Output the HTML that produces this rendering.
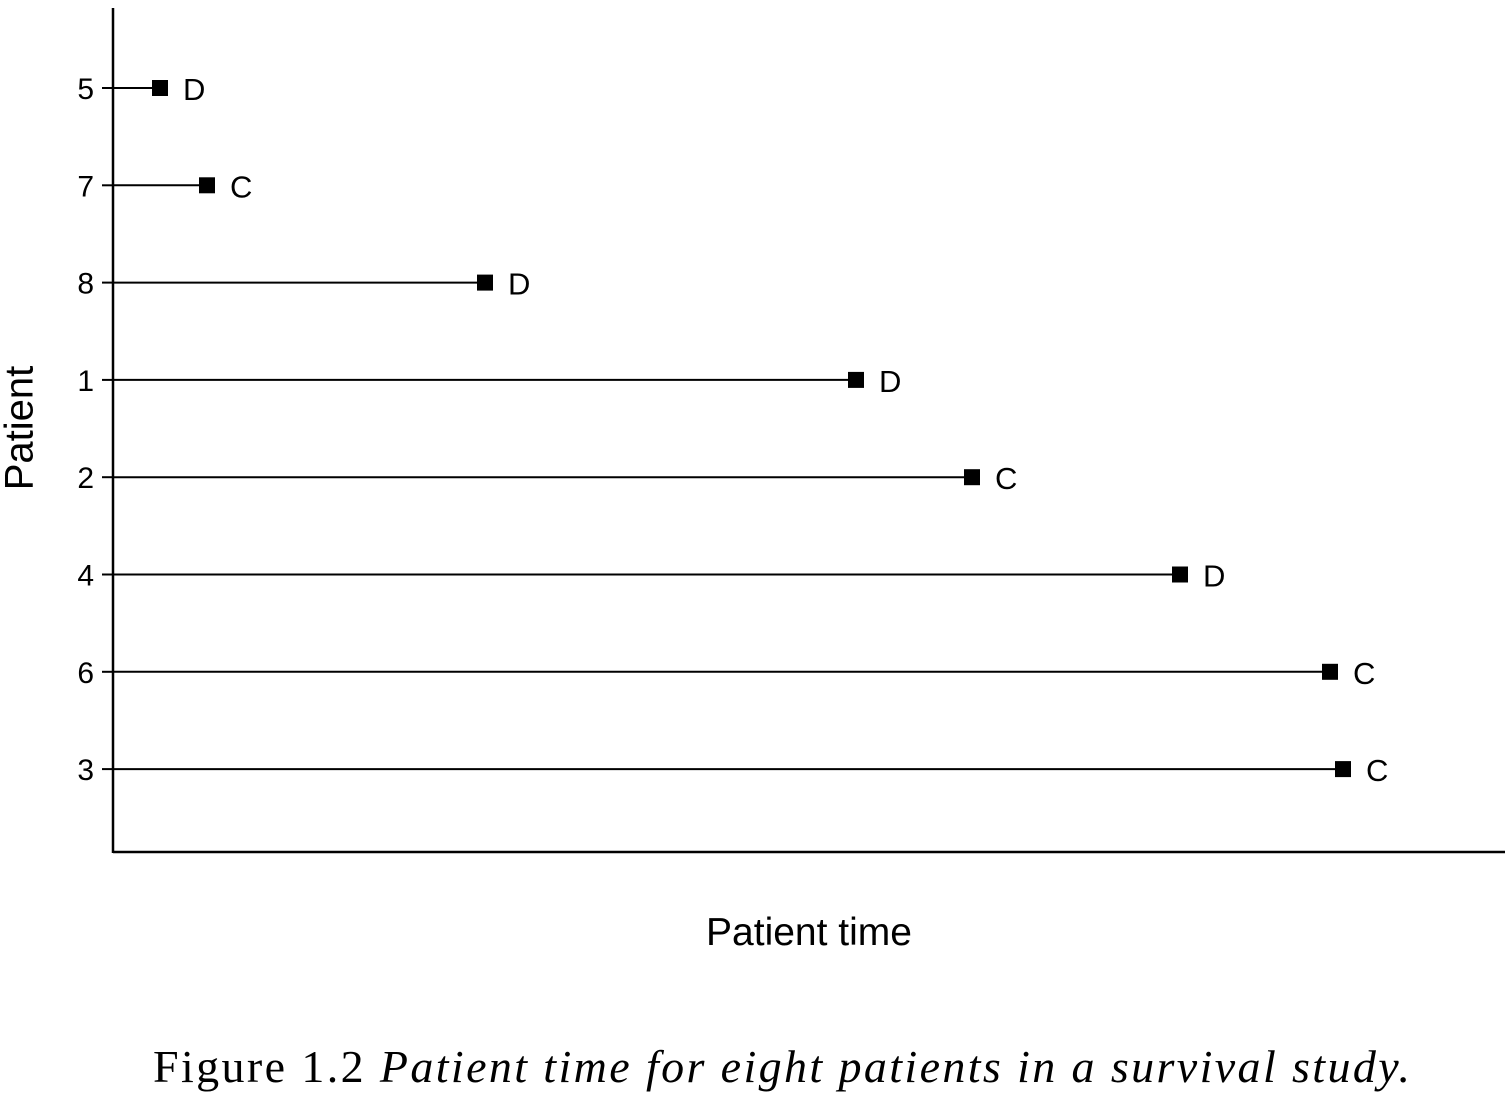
<!DOCTYPE html>
<html><head><meta charset="utf-8"><style>
html,body{margin:0;padding:0;background:#fff;}
svg{display:block;}
</style></head><body>
<svg id="chart" width="1512" height="1097" viewBox="0 0 1512 1097" xmlns="http://www.w3.org/2000/svg">
<line x1="113" y1="8" x2="113" y2="853" stroke="#000" stroke-width="2.5"/>
<line x1="113" y1="852" x2="1505" y2="852" stroke="#000" stroke-width="2.5"/>
<text x="22" y="428" transform="rotate(-90 22 428)" text-anchor="middle" dominant-baseline="middle" font-family="Liberation Sans, sans-serif" font-size="40">Patient</text>
<text x="809" y="945" text-anchor="middle" font-family="Liberation Sans, sans-serif" font-size="39">Patient time</text>
<text x="153" y="1082" textLength="1257" lengthAdjust="spacing" font-family="Liberation Serif, serif" font-size="46">Figure 1.2  <tspan font-style="italic">Patient time for eight patients in a survival study.</tspan></text>
<g id="marks"></g>
</svg>
<script>
const patients = ["5","7","8","1","2","4","6","3"];
const times = [4.7, 9.4, 37.2, 74.3, 85.9, 106.7, 121.7, 123.0];
const status = ["D","C","D","D","C","D","C","C"];
const NS = "http://www.w3.org/2000/svg";
const xScale = t => 113 + t * 10;
const yScale = i => 88 + i * 97.3;
const g = document.getElementById("marks");
function mk(tag, attrs){const e=document.createElementNS(NS,tag);for(const k in attrs)e.setAttribute(k,attrs[k]);g.appendChild(e);return e;}
patients.forEach((p,i)=>{
  const y=yScale(i), x=xScale(times[i]);
  const tick=mk("line",{x1:102,y1:y,x2:113,y2:y,stroke:"#000","stroke-width":2});
  
  
  const lab=mk("text",{x:94,y:y+11,"text-anchor":"end","font-family":"Liberation Sans, sans-serif","font-size":30});
  lab.textContent=p;
  
  
  const ln=mk("line",{x1:113,y1:y,x2:x,y2:y,stroke:"#000","stroke-width":2});
  
  
  const sq=mk("rect",{x:x-8,y:y-8,width:16,height:16,fill:"#000"});
  
  
  const st=mk("text",{x:x+23,y:y+12,"font-family":"Liberation Sans, sans-serif","font-size":31});
  st.textContent=status[i];
  
  
});
</script>
</body></html>
